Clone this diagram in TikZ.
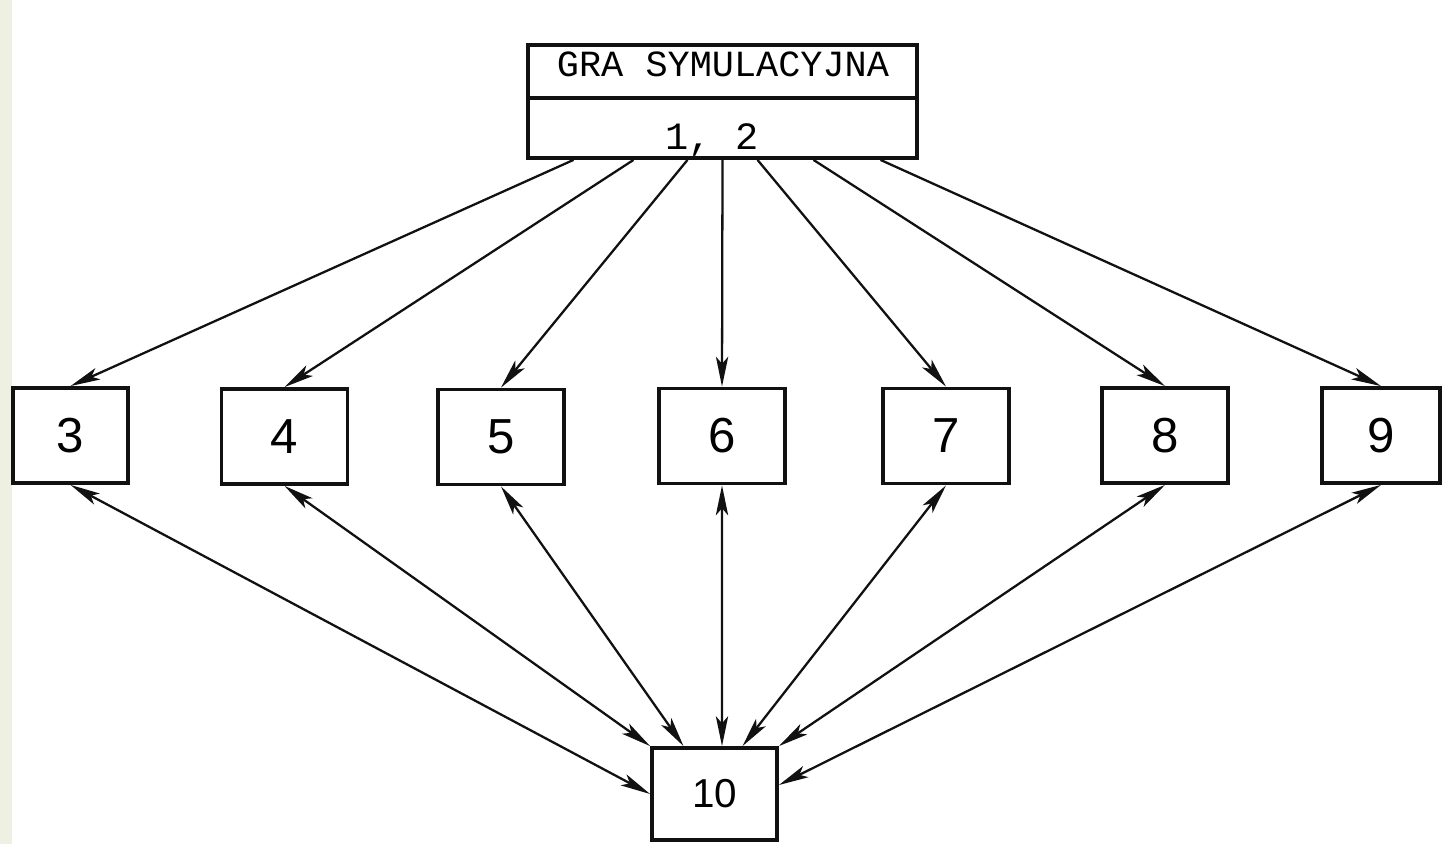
\documentclass[tikz,border=0pt]{standalone}
\usepackage{fontspec}
\setmainfont{Liberation Sans}
\setmonofont{Liberation Mono}
\usetikzlibrary{arrows.meta,calc}
\definecolor{Ink}{HTML}{111111}
\definecolor{Paper}{HTML}{FFFFFF}
\definecolor{Margin}{HTML}{EEF0E2}
\tikzset{
  box/.style={
    draw=Ink, line width=2.2pt, fill=Paper, inner sep=0pt,
    minimum width=2.52cm, minimum height=1.9cm,
    font=\fontsize{28}{32}\selectfont
  },
  caption/.style={anchor=base, inner sep=0pt, font=\ttfamily\fontsize{21}{24}\selectfont},
  link/.style={-{Stealth[length=17pt,width=7pt,inset=4pt]}, line width=1.3pt, draw=Ink},
  duplex/.style={{Stealth[length=17pt,width=7pt,inset=4pt]}-{Stealth[length=17pt,width=7pt,inset=4pt]},
    line width=1.3pt, draw=Ink}
}

\begin{document}
\begin{tikzpicture}[x=0.02cm, y=-0.02cm]
    \useasboundingbox (0,0) rectangle (1442,844);
    \fill[Margin] (0,0) rectangle (12,844);
    \node[box,minimum width=7.78cm,minimum height=2.26cm] (game) at (722.5,101.5) {};
    \draw[Ink,line width=2pt] ($(game.west)+(0,-3.5)$) -- ($(game.east)+(0,-3.5)$);
    \node[caption] (title) at (723,77) {GRA SYMULACYJNA};
    \node[caption,font=\ttfamily\fontsize{22}{24}\selectfont] (refs) at (712,150) {1, 2};
    \node[box,minimum width=2.3cm] (b3) at (70.5,435.5) {3};
    \node[box] (b4) at (284.5,436.5) {4};
    \node[box] (b5) at (501,437) {5};
    \node[box] (b6) at (722,436) {6};
    \node[box] (b7) at (946,436) {7};
    \node[box] (b8) at (1165,435.5) {8};
    \node[box,minimum width=2.36cm] (b9) at (1381,435.5) {9};
    \node[box,minimum width=2.5cm,minimum height=1.84cm,font=\fontsize{23}{26}\selectfont]
      (b10) at (714.5,794) {10};
    \draw[link] ($(game.south)+(-149,0)$) -- (b3.north);
    \draw[link] ($(game.south)+(-89,0)$) -- (b4.north);
    \draw[link] ($(game.south)+(-35,0)$) -- (b5.north);
    \draw[link] (game.south) -- (b6.north);
    \draw[link] ($(game.south)+(35,0)$) -- (b7.north);
    \draw[link] ($(game.south)+(91,0)$) -- (b8.north);
    \draw[link] ($(game.south)+(158,0)$) -- (b9.north);
    \draw[duplex] (b3.south) -- (b10.west);
    \draw[duplex] (b4.south) -- (b10.north west);
    \draw[duplex] (b5.south) -- ($(b10.north)+(-31,0)$);
    \draw[duplex] (b6.south) -- ($(b10.north)+(7.5,0)$);
    \draw[duplex] (b7.south) -- ($(b10.north)+(28,0)$);
    \draw[duplex] (b8.south) -- (b10.north east);
    \draw[duplex] (b9.south) -- ($(b10.east)+(0,-9)$);
  \end{tikzpicture}
\end{document}
